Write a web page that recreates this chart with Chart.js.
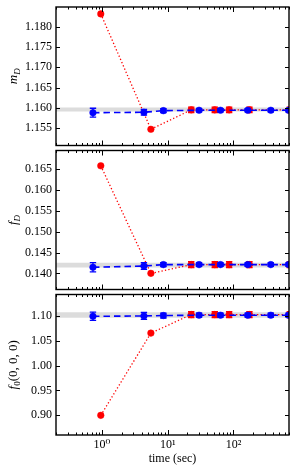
<!DOCTYPE html>
<html><head><meta charset="utf-8">
<script src="https://cdn.jsdelivr.net/npm/chart.js@4"></script>
<style>
html,body{margin:0;padding:0;background:#fff;width:296px;height:474px;overflow:hidden;}
.p{position:absolute;left:0;width:296px;}
</style></head><body>
<div class="p" style="top:0;height:150px"><canvas id="c1"></canvas></div>
<div class="p" style="top:146px;height:148px"><canvas id="c2"></canvas></div>
<div class="p" style="top:290px;height:184px"><canvas id="c3"></canvas></div>
<script>
// ---- shared x axis ----
const xRange = [0.2, 700];
const xMajorTicks = [1, 10, 100];
const xTickLabels = ['10\u2070', '10\u00b9', '10\u00b2'];
const xAxisTitle = 'time (sec)';

const blueTimes = [0.73, 4.35, 8.6, 30, 63.5, 165, 370, 690];
const redTimes  = [0.96, 5.55, 22.8, 52, 86, 175, 720];

// ---- panel 1: m_D ----
const mdBlue    = [1.1588, 1.1589, 1.1593, 1.1594, 1.1594, 1.1594, 1.1594, 1.1594];
const mdBlueErr = [0.0011, 0.0007, 0.0005, 0.0004, 0.0004, 0.0004, 0.0004, 0.0004];
const mdRed     = [1.1832, 1.1547, 1.1595, 1.1595, 1.1595, 1.1595, 1.1595];
const mdRedErr  = [0, 0, 0.0007, 0.0007, 0.0007, 0.0007, 0.0007];
const mdBand    = [1.1591, 1.1601];
const mdRange   = [1.1507, 1.1849];
const mdTicks   = [1.155, 1.160, 1.165, 1.170, 1.175, 1.180];

// ---- panel 2: f_D ----
const fdBlue    = [0.14146, 0.14176, 0.1421, 0.1421, 0.1421, 0.1421, 0.1421, 0.1421];
const fdBlueErr = [0.0011, 0.0008, 0.0005, 0.0004, 0.0004, 0.0004, 0.0004, 0.0004];
const fdRed     = [0.1658, 0.1400, 0.1421, 0.1421, 0.1421, 0.1421, 0.1421];
const fdRedErr  = [0, 0, 0.0007, 0.0007, 0.0007, 0.0007, 0.0007];
const fdBand    = [0.1414, 0.14255];
const fdRange   = [0.13613, 0.16947];
const fdTicks   = [0.140, 0.145, 0.150, 0.155, 0.160, 0.165];

// ---- panel 3: f_0(0,0,0) ----
const f0Blue    = [1.0990, 1.0997, 1.1005, 1.1012, 1.1012, 1.1012, 1.1012, 1.1012];
const f0BlueErr = [0.0083, 0.007, 0.005, 0.004, 0.004, 0.004, 0.004, 0.004];
const f0Red     = [0.900, 1.0652, 1.1025, 1.1025, 1.1025, 1.1025, 1.1025];
const f0RedErr  = [0, 0, 0.006, 0.006, 0.006, 0.006, 0.006];
const f0Band    = [1.0963, 1.1072];
const f0Range   = [0.8605, 1.1428];
const f0Ticks   = [0.90, 0.95, 1.00, 1.05, 1.10];

const FONT = '"Liberation Serif", "DejaVu Serif", serif';

function pts(xs, ys){ return xs.map((x,i)=>({x:x, y:ys[i]})); }

const framePlugin = {
  id: 'frame',
  beforeDatasetDraw(chart, args){
    const ds = chart.data.datasets[args.index];
    if (!ds.errors) return;
    const ctx = chart.ctx, ca = chart.chartArea, ys = chart.scales.y;
    ctx.save();
    ctx.beginPath(); ctx.rect(ca.left, ca.top, ca.right-ca.left, ca.bottom-ca.top); ctx.clip();
    ctx.strokeStyle = ds.borderColor; ctx.lineWidth = 1.3;
    args.meta.data.forEach((el,i)=>{
      const e = ds.errors[i]; if (!e) return;
      const v = ds.data[i].y;
      const y1 = ys.getPixelForValue(v+e), y2 = ys.getPixelForValue(v-e);
      const x = el.x, c = 3.2;
      ctx.beginPath();
      ctx.moveTo(x, y1); ctx.lineTo(x, y2);
      ctx.moveTo(x-c, y1); ctx.lineTo(x+c, y1);
      ctx.moveTo(x-c, y2); ctx.lineTo(x+c, y2);
      ctx.stroke();
    });
    ctx.restore();
  },
  afterDraw(chart){
    const ctx = chart.ctx, ca = chart.chartArea;
    const xs = chart.scales.x, ys = chart.scales.y;
    ctx.save();
    ctx.strokeStyle = '#000';
    ctx.lineWidth = 1;
    ctx.beginPath();
    for (let d = 0.1; d <= 1000; d *= 10) {
      for (let m = 1; m <= 9; m++) {
        const v = m*d;
        if (v < xRange[0] || v > xRange[1]) continue;
        const px = Math.round(xs.getPixelForValue(v)) + 0.5;
        const len = m === 1 ? 5 : 2.5;
        ctx.moveTo(px, ca.bottom); ctx.lineTo(px, ca.bottom - len);
        ctx.moveTo(px, ca.top); ctx.lineTo(px, ca.top + len);
      }
    }
    (chart.options.plugins.frame.yTicks || []).forEach(v=>{
      const py = Math.round(ys.getPixelForValue(v)) + 0.5;
      ctx.moveTo(ca.left, py); ctx.lineTo(ca.left + 4, py);
      ctx.moveTo(ca.right, py); ctx.lineTo(ca.right - 4, py);
    });
    ctx.stroke();
    ctx.lineWidth = 1.4;
    ctx.strokeRect(ca.left, ca.top, ca.right-ca.left, ca.bottom-ca.top);
    // y title with sub/superscripts
    const parts = chart.options.plugins.frame.title || [];
    ctx.translate(16.5, (ca.top+ca.bottom)/2);
    ctx.rotate(-Math.PI/2);
    let w = 0;
    parts.forEach(p=>{ ctx.font = p.style+' '+p.size+'px '+FONT; p.w = ctx.measureText(p.text).width; w += p.w; });
    let x = -w/2;
    ctx.fillStyle = '#000'; ctx.textBaseline = 'alphabetic';
    parts.forEach(p=>{ ctx.font = p.style+' '+p.size+'px '+FONT; ctx.fillText(p.text, x, p.dy); x += p.w; });
    ctx.restore();
  }
};

function makePanel(id, o){
  const isBottom = !!o.bottom;
  const cfg = {
    type: 'line',
    data: { datasets: [
      { data: pts(xRange, [o.band[0], o.band[0]]), borderWidth: 0, pointRadius: 0, borderColor: 'rgba(0,0,0,0)', fill: false, order: 3 },
      { data: pts(xRange, [o.band[1], o.band[1]]), borderWidth: 0, pointRadius: 0, borderColor: 'rgba(0,0,0,0)', backgroundColor: '#dcdcdc', fill: 0, order: 2 },
      { data: pts(redTimes, o.red), errors: o.redErr, borderColor: '#ff0000', backgroundColor: '#ff0000',
        pointBackgroundColor: '#ff0000', pointBorderColor: '#ff0000', pointRadius: 3.3, pointBorderWidth: 0.5,
        borderWidth: 1.3, borderDash: [1.3, 2.2], fill: false, tension: 0, order: 1 },
      { data: pts(blueTimes, o.blue), errors: o.blueErr, borderColor: '#0000ff', backgroundColor: '#0000ff',
        pointBackgroundColor: '#0000ff', pointBorderColor: '#0000ff', pointRadius: 3.3, pointBorderWidth: 0.5,
        borderWidth: 1.6, borderDash: [6.5, 4], fill: false, tension: 0, order: 0 }
    ]},
    options: {
      responsive: true, maintainAspectRatio: false, animation: false, devicePixelRatio: 1,
      layout: { padding: { left: 0, right: 7, top: o.padTop, bottom: o.padBottom } },
      plugins: { legend: { display: false }, tooltip: { enabled: false },
        frame: { yTicks: o.ticks, title: o.title } },
      scales: {
        x: {
          type: 'logarithmic', min: xRange[0], max: xRange[1], display: isBottom,
          grid: { drawOnChartArea: false, drawTicks: false },
          border: { display: false },
          afterBuildTicks: s => { s.ticks = xMajorTicks.map(v=>({value: v, major: true})); },
          afterFit: s => { s.height = isBottom ? 39 : 0; s.paddingLeft = 0; s.paddingRight = 0; },
          ticks: { autoSkip: false, maxRotation: 0, padding: 3, color: '#000',
            font: { family: FONT, size: 12 },
            callback: (v) => { const i = xMajorTicks.indexOf(v); return i >= 0 ? xTickLabels[i] : ''; } },
          title: { display: isBottom, text: xAxisTitle, color: '#000', font: { family: FONT, size: 12 }, padding: { top: 0, bottom: 8 } }
        },
        y: {
          type: 'linear', min: o.range[0], max: o.range[1],
          grid: { drawOnChartArea: false, drawTicks: false },
          border: { display: false },
          afterBuildTicks: s => { s.ticks = o.ticks.map(v=>({value: v})); },
          afterFit: s => { s.width = 56; s.paddingTop = 0; s.paddingBottom = 0; },
          ticks: { padding: 4, color: '#000', font: { family: FONT, size: 12 },
            callback: v => Number(v).toFixed(o.dec) }
        }
      }
    },
    plugins: [framePlugin]
  };
  return new Chart(document.getElementById(id), cfg);
}

makePanel('c1', { blue: mdBlue, blueErr: mdBlueErr, red: mdRed, redErr: mdRedErr, band: mdBand, range: mdRange,
  ticks: mdTicks, dec: 3, padTop: 7, padBottom: 2,
  title: [ {text:'m', style:'italic', size:13, dy:0}, {text:'D', style:'italic', size:9, dy:3} ] });
makePanel('c2', { blue: fdBlue, blueErr: fdBlueErr, red: fdRed, redErr: fdRedErr, band: fdBand, range: fdRange,
  ticks: fdTicks, dec: 3, padTop: 2, padBottom: 2,
  title: [ {text:'f', style:'italic', size:13, dy:0}, {text:'D', style:'italic', size:9, dy:3} ] });
makePanel('c3', { blue: f0Blue, blueErr: f0BlueErr, red: f0Red, redErr: f0RedErr, band: f0Band, range: f0Range,
  ticks: f0Ticks, dec: 2, padTop: 2, padBottom: 0, bottom: true,
  title: [ {text:'f', style:'italic', size:13, dy:0}, {text:'0', style:'normal', size:9, dy:3}, {text:'(0, 0, 0)', style:'normal', size:13, dy:0} ] });
</script>
</body></html>
